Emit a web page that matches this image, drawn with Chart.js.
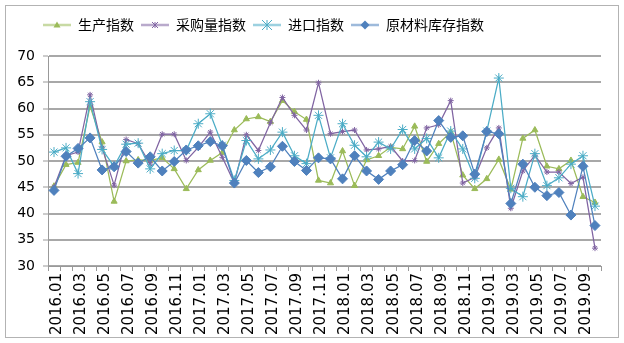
<!DOCTYPE html>
<html lang="zh">
<head>
<meta charset="utf-8">
<title>指数走势</title>
<script src="https://cdn.jsdelivr.net/npm/chart.js@4.4.0/dist/chart.umd.min.js"></script>
<style>
  html, body { margin: 0; padding: 0; background: #fff; }
  #wrap { position: relative; width: 624px; height: 343px; }
</style>
</head>
<body>
<div id="wrap"><canvas id="chart"></canvas></div>
<script>
// months on the x axis
const months = [
  '2016.01','2016.02','2016.03','2016.04','2016.05','2016.06','2016.07','2016.08','2016.09','2016.10','2016.11','2016.12',
  '2017.01','2017.02','2017.03','2017.04','2017.05','2017.06','2017.07','2017.08','2017.09','2017.10','2017.11','2017.12',
  '2018.01','2018.02','2018.03','2018.04','2018.05','2018.06','2018.07','2018.08','2018.09','2018.10','2018.11','2018.12',
  '2019.01','2019.02','2019.03','2019.04','2019.05','2019.06','2019.07','2019.08','2019.09','2019.10'
];
// series values
const production = [45.2, 49.3, 49.7, 60.4, 53.6, 42.3, 50.0, 50.2, 50.1, 50.6,
  48.5, 44.7, 48.3, 50.1, 51.6, 55.9, 58.0, 58.4, 57.5, 61.5,
  59.4, 57.9, 46.3, 45.8, 51.9, 45.3, 50.2, 51.0, 52.6, 52.3,
  56.6, 49.9, 53.3, 55.5, 47.3, 44.7, 46.6, 50.3, 44.6, 54.3,
  55.9, 49.0, 48.5, 50.1, 43.2, 42.1];
const purchase = [45.0, 51.0, 51.7, 62.6, 52.5, 45.4, 54.1, 53.3, 49.4, 55.1,
  55.1, 50.1, 52.6, 55.5, 50.7, 45.8, 55.0, 52.0, 57.3, 62.1,
  58.7, 55.9, 64.9, 55.2, 55.6, 55.9, 52.1, 52.3, 52.8, 50.0,
  50.1, 56.3, 56.9, 61.5, 45.8, 46.9, 52.5, 56.3, 41.0, 48.1,
  51.1, 47.9, 47.9, 45.7, 46.9, 33.4];
const imports = [51.7, 52.5, 47.6, 61.3, 52.2, 49.0, 53.2, 53.4, 48.5, 51.4,
  52.0, 52.0, 57.1, 59.0, 53.0, 46.3, 53.9, 50.4, 52.1, 55.5,
  51.0, 49.5, 58.7, 50.6, 57.1, 53.0, 50.8, 53.6, 52.3, 56.0,
  52.3, 54.3, 50.6, 55.7, 52.3, 46.7, 55.7, 65.8, 44.8, 43.2,
  51.4, 45.3, 46.8, 49.4, 51.0, 41.4];
const inventory = [44.4, 50.9, 52.4, 54.4, 48.3, 48.9, 51.8, 49.6, 50.8, 48.1,
  49.9, 52.1, 52.9, 53.7, 52.9, 45.8, 50.1, 47.8, 48.9, 52.8,
  49.9, 48.2, 50.6, 50.4, 46.6, 51.0, 48.1, 46.5, 48.1, 49.3,
  53.9, 51.9, 57.7, 54.5, 54.8, 47.5, 55.6, 55.2, 41.9, 49.4,
  45.0, 43.4, 44.0, 39.7, 49.0, 37.7];

const names = ['生产指数', '采购量指数', '进口指数', '原材料库存指数'];
const colors = ['#9bbb59', '#8064a2', '#4bacc6', '#4f81bd'];

// small line+marker picture for each legend entry
function legendIcon(color, shape) {
  const c = document.createElement('canvas');
  c.width = 28; c.height = 12;
  const g = c.getContext('2d');
  g.strokeStyle = color;
  g.globalAlpha = 0.55;
  g.lineWidth = 2.5;
  g.beginPath(); g.moveTo(0, 6); g.lineTo(28, 6); g.stroke();
  g.globalAlpha = 1;
  g.fillStyle = color;
  g.lineWidth = 1;
  const x = 14, y = 6;
  g.beginPath();
  if (shape === 'triangle') {
    g.moveTo(x, y - 3.5); g.lineTo(x + 3.5, y + 2.5); g.lineTo(x - 3.5, y + 2.5); g.closePath(); g.fill();
  } else if (shape === 'diamond') {
    g.moveTo(x, y - 4.5); g.lineTo(x + 4.5, y); g.lineTo(x, y + 4.5); g.lineTo(x - 4.5, y); g.closePath(); g.fill();
  } else {
    const r = shape === 'bigstar' ? 5 : 3;
    g.moveTo(x - r, y - r); g.lineTo(x + r, y + r);
    g.moveTo(x + r, y - r); g.lineTo(x - r, y + r);
    g.moveTo(x, y - r); g.lineTo(x, y + r);
    g.stroke();
  }
  return c;
}
const icons = [
  legendIcon(colors[0], 'triangle'),
  legendIcon(colors[1], 'star'),
  legendIcon(colors[2], 'bigstar'),
  legendIcon(colors[3], 'diamond')
];

const frame = {
  id: 'frame',
  beforeDraw(chart) {
    const ctx = chart.ctx;
    ctx.save();
    ctx.fillStyle = '#fff';
    ctx.fillRect(0, 0, chart.width, chart.height);
    ctx.strokeStyle = '#b3b3b3';
    ctx.lineWidth = 1;
    ctx.strokeRect(5.5, 5.5, 613, 332);
    ctx.restore();
  }
};

// fixed legend height so the plot starts where the reference does,
// and legend entries start a bit right of the frame like in the reference
const legendPlace = {
  id: 'legendPlace',
  beforeInit(chart) {
    const fit = chart.legend.fit;
    chart.legend.fit = function () {
      fit.call(this);
      this.height = 45;
    };
  },
  afterLayout(chart) {
    chart.legend.left = 36;
  }
};

function series(i, data, style, radius, order) {
  return {
    label: names[i],
    data: data,
    borderColor: colors[i],
    backgroundColor: colors[i],
    borderWidth: 1.25,
    pointStyle: style,
    pointRadius: radius,
    pointBorderWidth: 1,
    pointHoverRadius: radius,
    tension: 0,
    order: order
  };
}

new Chart(document.getElementById('chart'), {
  type: 'line',
  plugins: [frame, legendPlace],
  data: {
    labels: months,
    datasets: [
      series(0, production, 'triangle', 3.5, 3),
      series(1, purchase, 'star', 3, 2),
      series(2, imports, 'star', 5, 1),
      series(3, inventory, 'rectRot', 5, 0)
    ]
  },
  options: {
    responsive: true,
    maintainAspectRatio: false,
    animation: false,
    devicePixelRatio: 1,
    layout: { padding: { left: 6, right: 23, top: 11, bottom: 0 } },
    plugins: {
      tooltip: { enabled: false },
      legend: {
        position: 'top',
        align: 'start',
        labels: {
          usePointStyle: true,
          pointStyleWidth: 28,
          padding: 7,
          color: '#000',
          font: { family: 'Noto Sans CJK SC', size: 14 },
          generateLabels: () => names.map((n, i) => ({
            text: n,
            pointStyle: icons[i],
            fontColor: '#000',
            strokeStyle: colors[i],
            fillStyle: colors[i],
            lineWidth: 0,
            hidden: false,
            datasetIndex: i
          }))
        }
      }
    },
    scales: {
      x: {
        offset: true,
        grid: { offset: true, drawOnChartArea: false, drawTicks: true, tickLength: 5, color: '#999', lineWidth: 1 },
        border: { color: '#999', width: 1 },
        ticks: {
          autoSkip: false,
          minRotation: 90,
          maxRotation: 90,
          padding: 2,
          labelOffset: 3,
          color: '#000',
          font: { family: 'DejaVu Sans', size: 15 },
          callback: (v, i) => (i % 2 === 0 ? months[i] : '')
        },
        afterFit: (s) => { s.height = 77; }
      },
      y: {
        min: 30,
        max: 70,
        ticks: {
          stepSize: 5,
          padding: 8,
          color: '#000',
          font: { family: 'DejaVu Sans', size: 14 }
        },
        grid: { color: '#a8a8a8', lineWidth: 2, tickLength: 5, tickColor: '#999', tickWidth: 1 },
        border: { color: '#999', width: 1 },
        afterFit: (s) => { s.width = 42; }
      }
    }
  }
});
</script>
</body>
</html>
